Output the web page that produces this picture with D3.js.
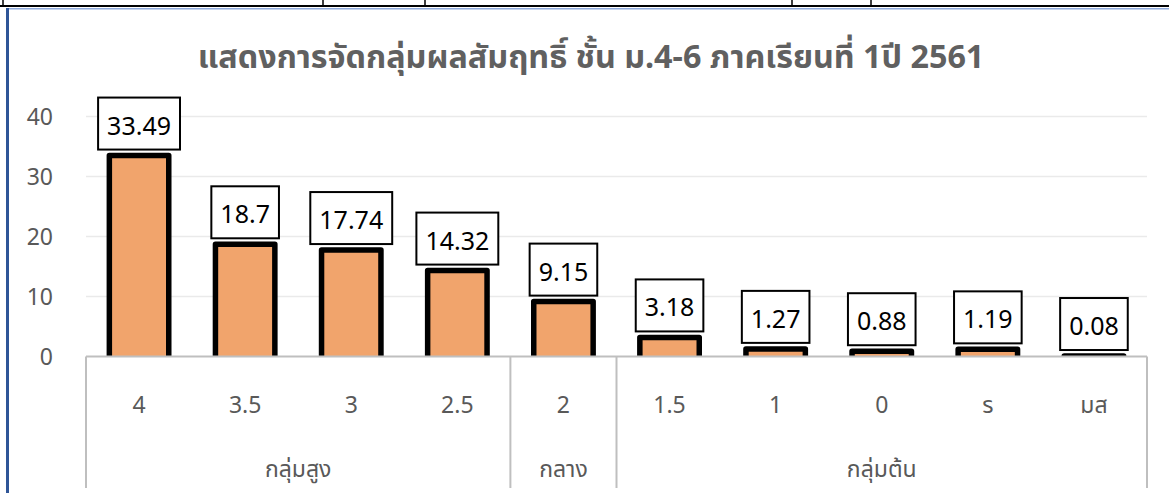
<!DOCTYPE html>
<html>
  <head>
    <meta charset="utf-8">
    <title>ผลสัมฤทธิ์ ม.4-6</title>
    <script src="https://cdn.jsdelivr.net/npm/d3@7"></script>
    <style>
      html, body { margin: 0; padding: 0; background: #fff; }
      svg { display: block; }
      text { font-family: "Noto Sans", "Noto Sans Thai", "Liberation Sans", sans-serif; fill: #595959; }
    </style>
  </head>
  <body>
    <div id="chart"></div>
    <script>
      // data
      var grades = ["4", "3.5", "3", "2.5", "2", "1.5", "1", "0", "ร", "มส"];
      var percents = [33.49, 18.7, 17.74, 14.32, 9.15, 3.18, 1.27, 0.88, 1.19, 0.08];
      var groupNames = ["กลุ่มสูง", "กลาง", "กลุ่มต้น"];
      var groupSizes = [4, 1, 5];
      var yTicks = [0, 10, 20, 30, 40];
      var title = "แสดงการจัดกลุ่มผลสัมฤทธิ์ ชั้น ม.4-6 ภาคเรียนที่ 1ปี 2561";

      var W = 1169, H = 493;
      var plotL = 86, plotR = 1147, plotT = 116.5, plotB = 356.5;

      var svg = d3.select("#chart").append("svg")
        .attr("width", W).attr("height", H);

      // table border strip above the chart (part of the screenshot)
      svg.append("line").attr("x1", 0).attr("x2", W).attr("y1", 6).attr("y2", 6)
        .attr("stroke", "#000").attr("stroke-width", 2);
      [3, 323, 425, 792, 871].forEach(function(cx){
        svg.append("line").attr("x1", cx).attr("x2", cx).attr("y1", 0).attr("y2", 7)
          .attr("stroke", "#000").attr("stroke-width", 1.5);
      });
      svg.append("line").attr("x1", 6).attr("x2", W).attr("y1", 8.8).attr("y2", 8.8)
        .attr("stroke", "#8FAADC").attr("stroke-width", 1.5);
      svg.append("line").attr("x1", 7.5).attr("x2", 7.5).attr("y1", 8).attr("y2", H)
        .attr("stroke", "#2F5597").attr("stroke-width", 3);

      var x = d3.scaleBand().domain(grades).range([plotL, plotR])
        .paddingInner(0.44).paddingOuter(0.22);
      var y = d3.scaleLinear().domain([0, 40]).range([plotB, plotT]);

      // title
      var t = svg.append("text")
        .attr("x", 591).attr("y", 68)
        .attr("text-anchor", "middle")
        .style("font-size", "29px").style("font-weight", "bold")
        .style("fill", "#606060")
        .text(title);
      var tw = t.node().getComputedTextLength();
      if (tw > 0) t.style("font-size", (29 * 787 / tw).toFixed(1) + "px");

      // gridlines
      svg.append("g").selectAll("line").data(yTicks.filter(function(d){ return d > 0; }))
        .join("line")
        .attr("x1", plotL).attr("x2", plotR)
        .attr("y1", function(d){ return y(d); }).attr("y2", function(d){ return y(d); })
        .attr("stroke", "#EAEAEA").attr("stroke-width", 1.5);

      // y tick labels
      svg.append("g").selectAll("text").data(yTicks).join("text")
        .attr("x", 53).attr("y", function(d){ return y(d); })
        .attr("dy", "0.36em").attr("text-anchor", "end")
        .style("font-size", "23px")
        .text(function(d){ return d; });

      // bars
      svg.append("clipPath").attr("id", "plotclip").append("rect")
        .attr("x", 0).attr("y", 0).attr("width", W).attr("height", plotB);
      svg.append("g").attr("clip-path", "url(#plotclip)")
        .selectAll("rect").data(percents).join("rect")
        .attr("x", function(d, i){ return x(grades[i]); })
        .attr("width", x.bandwidth())
        .attr("y", function(d){ return y(d); })
        .attr("height", function(d){ return plotB - y(d) + 3; })
        .attr("fill", "#F1A46C")
        .attr("stroke", "#000").attr("stroke-width", 5.5)
        .attr("stroke-linejoin", "round");

      // category axis line and group separators
      svg.append("line").attr("x1", plotL).attr("x2", plotR)
        .attr("y1", plotB).attr("y2", plotB)
        .attr("stroke", "#BFBFBF").attr("stroke-width", 2);

      var step = x.step();
      var bounds = [0];
      groupSizes.forEach(function(n, i){ bounds.push(bounds[i] + n); });
      svg.append("g").selectAll("line").data(bounds).join("line")
        .attr("x1", function(d){ return plotL + d * step; })
        .attr("x2", function(d){ return plotL + d * step; })
        .attr("y1", plotB).attr("y2", 488)
        .attr("stroke", "#BFBFBF").attr("stroke-width", 2);

      // category labels
      svg.append("g").selectAll("text").data(grades).join("text")
        .attr("x", function(d){ return x(d) + x.bandwidth() / 2; })
        .attr("y", 413)
        .attr("text-anchor", "middle")
        .style("font-size", "23px")
        .text(function(d){ return d; });

      // group labels
      svg.append("g").selectAll("text").data(groupNames).join("text")
        .attr("x", function(d, i){ return plotL + (bounds[i] + bounds[i + 1]) / 2 * step; })
        .attr("y", 477)
        .attr("text-anchor", "middle")
        .style("font-size", "23px")
        .text(function(d){ return d; });

      // value labels in boxes
      var lab = svg.append("g").selectAll("g").data(percents).join("g")
        .attr("transform", function(d, i){
          return "translate(" + (x(grades[i]) + x.bandwidth() / 2) + "," + (y(d) - 6) + ")";
        });
      var boxes = lab.append("rect")
        .attr("fill", "#fff").attr("stroke", "#000").attr("stroke-width", 2);
      var labTxt = lab.append("text")
        .attr("text-anchor", "middle")
        .attr("y", -15)
        .style("font-size", "25px")
        .style("fill", "#000")
        .text(function(d){ return d; });
      boxes.each(function(d, i){
        var w = labTxt.nodes()[i].getComputedTextLength() + 18;
        d3.select(this).attr("x", -w / 2).attr("width", w).attr("y", -52).attr("height", 52);
      });
    </script>
  </body>
</html>
